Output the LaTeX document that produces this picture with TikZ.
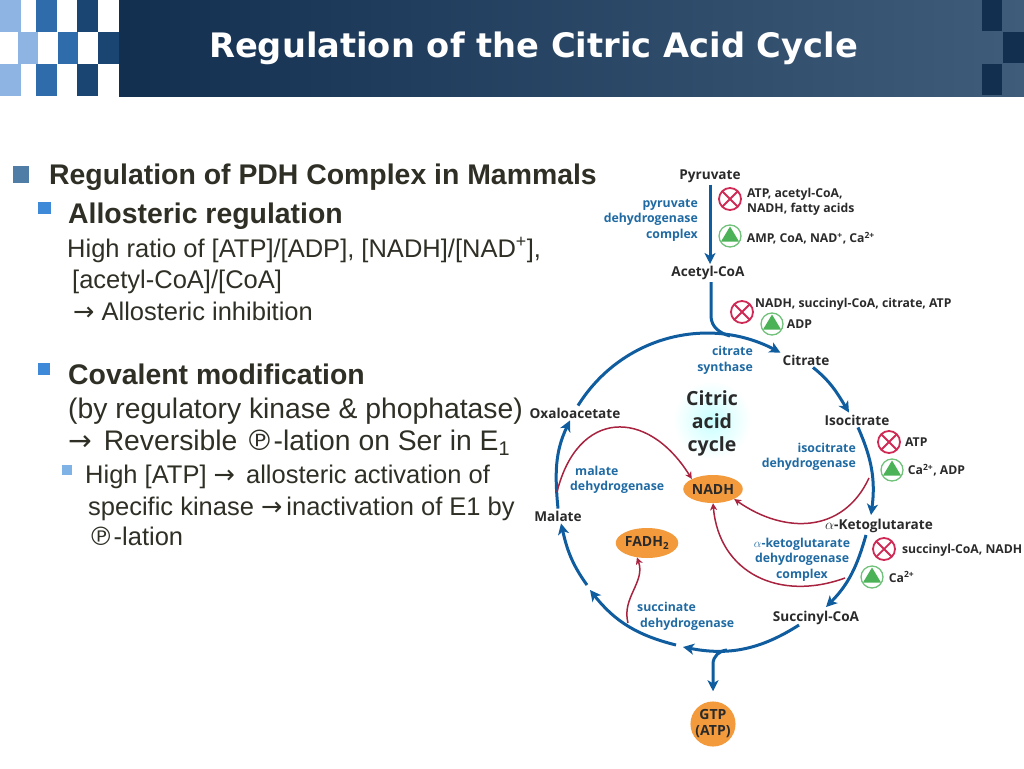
\documentclass[tikz,border=0pt]{standalone}
\usepackage{fontspec}
\setmainfont{Liberation Sans}
\newfontfamily\titlefont{DejaVu Sans}
\newfontfamily\figfont{Open Sans}
\newfontfamily\symfont{DejaVu Sans}
\usetikzlibrary{positioning,shapes.geometric,arrows.meta}
\definecolor{HeadDark}{HTML}{132F50}
\definecolor{HeadLight}{HTML}{3F5C7A}
\definecolor{TileLight}{HTML}{8DB4E2}
\definecolor{TileMid}{HTML}{2E6CAB}
\definecolor{TileDark}{HTML}{1A4472}
\definecolor{BulletA}{HTML}{4F7DA6}
\definecolor{BulletB}{HTML}{3E8AD8}
\definecolor{BulletC}{HTML}{7FB2E5}
\definecolor{BodyText}{HTML}{2F2F26}
\definecolor{FigText}{HTML}{2A2A2A}
\definecolor{EnzBlue}{HTML}{1F6AA3}
\definecolor{CycleBlue}{HTML}{0F5C9F}
\definecolor{NadRed}{HTML}{A8233F}
\definecolor{StopRed}{HTML}{CF2A55}
\definecolor{GoGreen}{HTML}{4CB257}
\definecolor{CofOrange}{HTML}{F29A3C}
\newcommand{\arr}{{\symfont→}}
\newcommand{\plabel}{{\symfont℗}}

\begin{document}
\begin{tikzpicture}[>=stealth,x=1pt,y=-1pt]
  \tikzstyle{body}=[anchor=west,inner sep=0pt,text=BodyText,font=\fontsize{25.5}{29}\selectfont]
  \tikzstyle{big}=[body,font=\fontsize{28.3}{32}\selectfont]
  \tikzstyle{head}=[body,font=\bfseries\fontsize{28.4}{32}\selectfont]
  \tikzstyle{bullet}=[rectangle,inner sep=0pt]
  \tikzstyle{metab}=[inner sep=2pt,text=FigText,font=\figfont\bfseries\fontsize{13.6}{16}\selectfont]
  \tikzstyle{enz}=[inner sep=0pt,text=EnzBlue,font=\figfont\bfseries\fontsize{12.3}{15.5}\selectfont]
  \tikzstyle{reg}=[inner sep=0pt,text=FigText,font=\figfont\bfseries\fontsize{12.2}{15}\selectfont]
  \tikzstyle{cof}=[ellipse,fill=CofOrange,inner sep=0pt,text=FigText,font=\figfont\bfseries\fontsize{14}{16}\selectfont]
  \tikzstyle{cyc}=[-{Stealth[length=11pt,width=11pt,inset=3pt]},line width=3pt,color=CycleBlue]
  \tikzstyle{nad}=[-{Stealth[length=7pt,width=7pt,inset=2pt]},line width=1.5pt,color=NadRed]
  \tikzstyle{inhib}=[circle,draw=StopRed,line width=1.8pt,minimum size=22pt,inner sep=0pt,
    path picture={\draw[StopRed,line width=1.8pt] (path picture bounding box.north west)--(path picture bounding box.south east)
      (path picture bounding box.north east)--(path picture bounding box.south west);}]
  \tikzstyle{activ}=[circle,draw=GoGreen!80,line width=1.3pt,minimum size=22pt,inner sep=0pt,
    path picture={\fill[GoGreen] ([yshift=9.5pt]path picture bounding box.center)--([xshift=-9pt,yshift=-5.5pt]path picture bounding box.center)
      --([xshift=9pt,yshift=-5.5pt]path picture bounding box.center)--cycle;}]
  \useasboundingbox (0,0) rectangle (1024,768);

  \shade[left color=HeadDark,right color=HeadLight] (119,0) rectangle (1024,96);
  \foreach \xa/\ya/\xb/\yb/\tile in {0/0/21/32/TileLight,36/0/57/32/TileMid,77/0/98/32/TileDark,
    18/32/38/64/TileLight,58/32/78/64/TileMid,98/32/119/64/TileDark,
    0/64/21/96/TileLight,36/64/57/96/TileMid,77/64/98/96/TileDark,
    982/0/1002/31/HeadDark,1003/32/1024/63/HeadDark,982/64/1002/95/HeadDark}
    \fill[\tile] (\xa,\ya) rectangle (\xb,\yb);
  \node[text=white,font=\titlefont\bfseries\fontsize{33.7}{38}\selectfont] (title) at (533.5,48) {Regulation of the Citric Acid Cycle};

  \node[bullet,fill=BulletA,minimum width=16pt,minimum height=17pt] (b1) at (21,174) {};
  \node[bullet,fill=BulletB,minimum width=13pt,minimum height=12pt] (b2) at (44.5,208) {};
  \node[bullet,fill=BulletB,minimum width=12pt,minimum height=12pt] (b3) at (44,368.5) {};
  \node[bullet,fill=BulletC,minimum width=10pt,minimum height=10pt] (b4) at (67,470) {};
  \node[head] (t1) at (49,177) {Regulation of PDH Complex in Mammals};
  \node[head] (t2) at (68,216) {Allosteric regulation};
  \node[body] (t3) at (67,250) {High ratio of [ATP]/[ADP], [NADH]/[NAD\textsuperscript{+}],};
  \node[body] (t4) at (72,282) {[acetyl-CoA]/[CoA]};
  \node[body] (t5) at (73,311) {\arr{} Allosteric inhibition};
  \node[head] (t6) at (68,374) {Covalent modification};
  \node[big] (t7) at (68,411) {(by regulatory kinase \& phophatase)};
  \node[big] (t8) at (68,443) {\arr{}\hspace{4pt} Reversible \plabel{}-lation on Ser in E\textsubscript{1}};
  \node[body] (t9) at (85,477) {High [ATP] \arr{}\hspace{4pt} allosteric activation of};
  \node[body] (t10) at (88,509) {specific kinase \arr{}\hspace{4pt}inactivation of E1 by};
  \node[body] (t11) at (88,536) {\plabel{}-lation};

  \node[circle,minimum size=78pt,inner color=cyan!22,outer color=white] (glow) at (712,420) {};
  \node[align=center,text=FigText,font=\figfont\bfseries\fontsize{19.5}{23}\selectfont] (cac) at (712,423) {Citric\\acid\\cycle};

  \node[metab] (pyr) at (710,176) {Pyruvate};
  \node[metab] (acetyl) at (708,273) {Acetyl-CoA};
  \node[metab] (citrate) at (806,360) {Citrate};
  \node[metab] (iso) at (857,420) {Isocitrate};
  \node[metab] (akg) at (879,526) {$\alpha$-Ketoglutarate};
  \node[metab] (succ) at (816,618) {Succinyl-CoA};
  \node[metab] (malate) at (558,516) {Malate};
  \node[metab] (oaa) at (575,413) {Oxaloacetate};
  \node[cof,minimum width=54pt,minimum height=28pt] (nadh) at (713,489) {NADH};
  \node[cof,minimum width=54pt,minimum height=30pt] (fadh) at (647,543) {FADH\textsubscript{2}};
  \node[cof,circle,minimum size=42pt,align=center] (gtp) at (713,724) {GTP\\(ATP)};

  \node[enz,align=right,anchor=east] (e1) at (698,220) {pyruvate\\dehydrogenase\\complex};
  \node[enz,align=right,anchor=east] (e2) at (753,360.5) {citrate\\synthase};
  \node[enz,align=right,anchor=east] (e3) at (856,457) {isocitrate\\dehydrogenase};
  \node[enz,align=center] (e4) at (802,559.5) {$\alpha$-ketoglutarate\\dehydrogenase\\complex};
  \node[enz,align=left,anchor=west] (e5) at (570,480) {\hspace*{5pt}malate\\dehydrogenase};
  \node[enz,align=left,anchor=west] (e6) at (637,616.5) {succinate\\\hspace*{3pt}dehydrogenase};

  \node[inhib] (i1) at (730,199) {};
  \node[activ] (a1) at (730,236) {};
  \node[inhib] (i2) at (742,312) {};
  \node[activ] (a2) at (772,324) {};
  \node[inhib] (i3) at (889,442) {};
  \node[activ] (a3) at (892,470) {};
  \node[inhib] (i4) at (884,549) {};
  \node[activ] (a4) at (872,577) {};
  \node[reg,align=left,right=5pt of i1,yshift=-3pt] (r1) {ATP, acetyl-CoA,\\NADH, fatty acids};
  \node[reg,right=5pt of a1,yshift=-2pt] (r2) {AMP, CoA, NAD\textsuperscript{+}, Ca\textsuperscript{2+}};
  \node[reg,anchor=west] (r3) at (755,304) {NADH, succinyl-CoA, citrate, ATP};
  \node[reg,right=3pt of a2] (r4) {ADP};
  \node[reg,right=4pt of i3] (r5) {ATP};
  \node[reg,right=4pt of a3] (r6) {Ca\textsuperscript{2+}, ADP};
  \node[reg,right=6pt of i4,yshift=-1.5pt] (r7) {succinyl-CoA, NADH};
  \node[reg,right=5pt of a4] (r8) {Ca\textsuperscript{2+}};

  \coordinate (tcaV) at (711,316);
  \coordinate (tca1) at (730,336);
  \coordinate (tcaG) at (727,650);
  \coordinate (gtpV) at (713,664);
  \coordinate (sa) at (683,647);
  \coordinate (sb) at (676,645);
  \coordinate (fa) at (590,590);
  \coordinate (fb) at (587,585);
  \coordinate (nad1) at (557,492);
  \coordinate (nad2) at (869,478);
  \coordinate (nad3) at (845,578);
  \coordinate (fad1) at (628,623);

  \draw[cyc] (pyr.south)--([xshift=2pt]acetyl.north);
  \draw[cyc,-] ([xshift=3pt]acetyl.south)--(tcaV) to[out=-90,in=165] (tca1);
  \draw[cyc] ([xshift=3pt]oaa.north) to[out=58,in=152.5] (citrate.north west);
  \draw[cyc] ([xshift=7pt]citrate.south) to[out=-38.6,in=121] ([xshift=-8pt]iso.north);
  \draw[cyc] ([xshift=1pt]iso.south) to[out=-66,in=82.4] ([xshift=-8pt,yshift=2pt]akg.north);
  \draw[cyc] ([xshift=-13pt]akg.south) to[out=-105.8,in=45.3] ([xshift=10pt,yshift=2pt]succ.north);
  \draw[cyc] ([xshift=-17pt,yshift=2pt]succ.south) to[out=-147.4,in=-11] (sa);
  \draw[cyc] (sb) to[out=166,in=-51.7] (fa);
  \draw[cyc] (fb) to[out=126,in=-77] ([xshift=3pt]malate.south);
  \draw[cyc] (malate.north) to[out=95.5,in=-115.6] ([xshift=-5pt]oaa.south);
  \draw[cyc,shorten >=10pt] (tcaG) to[out=185,in=90] (gtpV)--(gtp.north);

  \draw[nad] (nad1) to[out=76,in=122,looseness=1.6] (nadh.north west);
  \draw[nad] (nad2) to[out=-115,in=-35,looseness=1.15] (nadh.south east);
  \draw[nad] (nad3) to[out=-160,in=-85,looseness=1.18] (nadh.south);
  \draw[nad] (fad1) to[out=105,in=-70] (fadh.235);
\end{tikzpicture}
\end{document}
